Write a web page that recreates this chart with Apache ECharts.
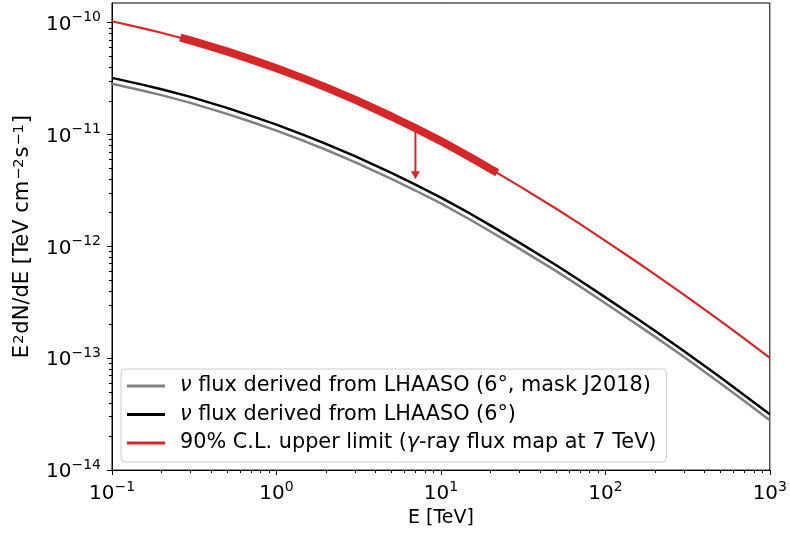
<!DOCTYPE html>
<html>
<head>
<meta charset="utf-8">
<script src="https://cdn.jsdelivr.net/npm/echarts@6/dist/echarts.min.js"></script>
<style>
  html, body { margin: 0; padding: 0; background: #fff; }
  #eChart { width: 790px; height: 533px; }
</style>
</head>
<body>
<div id="eChart"></div>
<script>
// energy grid [TeV]
const energy = [0.1, 0.15, 0.2, 0.3, 0.5, 0.7, 1, 1.5, 2, 3, 5, 7, 10, 15, 20, 30, 50, 70, 100, 150, 200, 300, 500, 700, 1000];
// nu flux, LHAASO 6 deg with J2018 masked (grey)
const fluxMask = [2.84e-11, 2.49e-11, 2.25e-11, 1.92e-11, 1.53e-11, 1.30e-11, 1.085e-11, 8.66e-12, 7.31e-12, 5.67e-12, 4.02e-12, 3.16e-12, 2.42e-12, 1.74e-12, 1.36e-12, 9.56e-13, 6.04e-13, 4.39e-13, 3.10e-13, 2.08e-13, 1.56e-13, 1.03e-13, 5.97e-14, 4.14e-14, 2.79e-14];
// nu flux, LHAASO 6 deg (black)
const fluxAll = [3.21e-11, 2.81e-11, 2.54e-11, 2.17e-11, 1.73e-11, 1.47e-11, 1.225e-11, 9.78e-12, 8.26e-12, 6.41e-12, 4.54e-12, 3.57e-12, 2.73e-12, 1.97e-12, 1.54e-12, 1.08e-12, 6.82e-13, 4.96e-13, 3.50e-13, 2.35e-13, 1.76e-13, 1.16e-13, 6.75e-14, 4.68e-14, 3.15e-14];
// 90% C.L. upper limit (red)
const upperLimit = [1.03e-10, 9.0e-11, 8.13e-11, 6.94e-11, 5.54e-11, 4.70e-11, 3.92e-11, 3.13e-11, 2.64e-11, 2.05e-11, 1.45e-11, 1.14e-11, 8.74e-12, 6.30e-12, 4.93e-12, 3.46e-12, 2.18e-12, 1.59e-12, 1.12e-12, 7.52e-13, 5.63e-13, 3.71e-13, 2.16e-13, 1.50e-13, 1.01e-13];
// thick part of the upper limit
const bandE = [0.26, 0.3, 0.5, 0.7, 1, 1.5, 2, 3, 5, 7, 10, 15, 20, 22];
const bandFlux = [7.35e-11, 6.94e-11, 5.54e-11, 4.70e-11, 3.92e-11, 3.13e-11, 2.64e-11, 2.05e-11, 1.45e-11, 1.14e-11, 8.74e-12, 6.30e-12, 4.93e-12, 4.55e-12];
// arrow at 7 TeV
const arrowE = 7;
const arrowFrom = 1.14e-11;
const arrowTo = 4.33e-12;
// ticks
const xMajor = [0.1, 1, 10, 100, 1000];
const yMajor = [1e-14, 1e-13, 1e-12, 1e-11, 1e-10];

const seriesNames = [
  "ν flux derived from LHAASO (6°, mask J2018)",
  "ν flux derived from LHAASO (6°)",
  "90% C.L. upper limit (γ-ray flux map at 7 TeV)",
];
const legendRich = [
  "{i|ν} flux derived from LHAASO (6°, mask J2018)",
  "{i|ν} flux derived from LHAASO (6°)",
  "90% C.L. upper limit ({i|γ}-ray flux map at 7 TeV)",
];

const FONT = "DejaVu Sans";

// minor ticks 2..9 x 10^n inside the range
function minorTicks(lo, hi) {
  const out = [];
  for (let p = Math.floor(Math.log10(lo)); p <= Math.ceil(Math.log10(hi)); p++) {
    for (let m = 2; m <= 9; m++) {
      const v = m * Math.pow(10, p);
      if (v > lo && v < hi) out.push(v);
    }
  }
  return out;
}

function powLabel(v) {
  const e = Math.round(Math.log10(v));
  return "{b|10}{s|" + (e < 0 ? "−" + -e : e) + "}";
}

const labelRich = {
  b: { fontFamily: FONT, fontSize: 20, color: "#000", verticalAlign: "bottom", lineHeight: 24 },
  s: { fontFamily: FONT, fontSize: 14, color: "#000", verticalAlign: "top", lineHeight: 24 },
};

function zip(xs, ys) {
  return xs.map((x, i) => [x, ys[i]]);
}

const xMin = 0.1, xMax = 1000, yMin = 1e-14, yMax = 1.5e-10;

const tickLine = { color: "#000", width: 1 };

const option = {
  animation: false,
  backgroundColor: "#fff",
  grid: {
    left: 112,
    right: 17,
    top: 3,
    bottom: 61,
    show: true,
    borderColor: "#000",
    borderWidth: 1,
    backgroundColor: "transparent",
  },
  legend: {
    orient: "vertical",
    left: 121,
    top: 369,
    padding: [6, 10, 8, 6],
    icon: "rect",
    itemWidth: 38,
    itemHeight: 3,
    itemGap: 6.5,
    backgroundColor: "rgba(255,255,255,0.8)",
    borderColor: "#cccccc",
    borderWidth: 1,
    borderRadius: 4,
    data: seriesNames,
    formatter: name => legendRich[seriesNames.indexOf(name)],
    textStyle: {
      fontFamily: FONT,
      fontSize: 20.8,
      color: "#000",
      lineHeight: 22,
      padding: [0, 0, 0, 10],
      rich: {
        i: { fontFamily: FONT, fontSize: 20.8, fontStyle: "italic", color: "#000" },
      },
    },
  },
  xAxis: [
    {
      type: "log",
      logBase: 10,
      min: xMin,
      max: xMax,
      name: "E [TeV]",
      nameLocation: "middle",
      nameGap: 36,
      nameTextStyle: { fontFamily: FONT, fontSize: 19, color: "#000" },
      axisLine: { show: true, lineStyle: tickLine },
      axisTick: { show: true, length: 5, lineStyle: tickLine, customValues: xMajor },
      axisLabel: { margin: 10, formatter: powLabel, rich: labelRich, customValues: xMajor },
      splitLine: { show: false },
    },
    {
      // minor ticks
      type: "log",
      logBase: 10,
      min: xMin,
      max: xMax,
      position: "bottom",
      axisLine: { show: false },
      axisTick: { show: true, length: 3, lineStyle: tickLine, customValues: minorTicks(xMin, xMax) },
      axisLabel: { show: false },
      splitLine: { show: false },
    },
  ],
  yAxis: [
    {
      type: "log",
      logBase: 10,
      min: yMin,
      max: yMax,
      name: "E{s|2}dN/dE [TeV cm{s|−2}s{s|−1}]",
      nameLocation: "middle",
      nameGap: 79,
      nameTextStyle: {
        fontFamily: FONT,
        fontSize: 21,
        color: "#000",
        rich: { s: { fontFamily: FONT, fontSize: 14.5, color: "#000", verticalAlign: "top", padding: [0, 1, 0, 1] } },
      },
      axisLine: { show: true, lineStyle: tickLine },
      axisTick: { show: true, length: 5, lineStyle: tickLine, customValues: yMajor },
      axisLabel: { margin: 11, formatter: powLabel, rich: labelRich, customValues: yMajor },
      splitLine: { show: false },
    },
    {
      // minor ticks
      type: "log",
      logBase: 10,
      min: yMin,
      max: yMax,
      position: "left",
      axisLine: { show: false },
      axisTick: { show: true, length: 3, lineStyle: tickLine, customValues: minorTicks(yMin, yMax) },
      axisLabel: { show: false },
      splitLine: { show: false },
    },
  ],
  series: [
    {
      name: seriesNames[0],
      type: "line",
      symbol: "none",
      data: zip(energy, fluxMask),
      lineStyle: { color: "#808080", width: 2.5 },
      itemStyle: { color: "#808080" },
    },
    {
      name: seriesNames[1],
      type: "line",
      symbol: "none",
      data: zip(energy, fluxAll),
      lineStyle: { color: "#000000", width: 2.5 },
      itemStyle: { color: "#000000" },
    },
    {
      name: seriesNames[2],
      type: "line",
      symbol: "none",
      data: zip(energy, upperLimit),
      lineStyle: { color: "#d62728", width: 2.2 },
      itemStyle: { color: "#d62728" },
    },
    {
      name: "band",
      type: "line",
      symbol: "none",
      data: zip(bandE, bandFlux),
      lineStyle: { color: "#d62728", width: 8, cap: "butt" },
      itemStyle: { color: "#d62728" },
    },
    {
      name: "arrow",
      type: "line",
      showSymbol: true,
      symbol: "none",
      data: [
        { value: [arrowE, arrowFrom], symbol: "none" },
        { value: [arrowE, arrowTo], symbol: "triangle", symbolRotate: 180, symbolSize: [9, 8] },
      ],
      lineStyle: { color: "#d62728", width: 2 },
      itemStyle: { color: "#d62728" },
    },
    {
      // keeps the minor-tick axes bound
      type: "line",
      xAxisIndex: 1,
      yAxisIndex: 1,
      data: [],
    },
  ],
};

const myChart = echarts.init(document.getElementById("eChart"), null, { renderer: "canvas" });
myChart.setOption(option);
</script>
</body>
</html>
